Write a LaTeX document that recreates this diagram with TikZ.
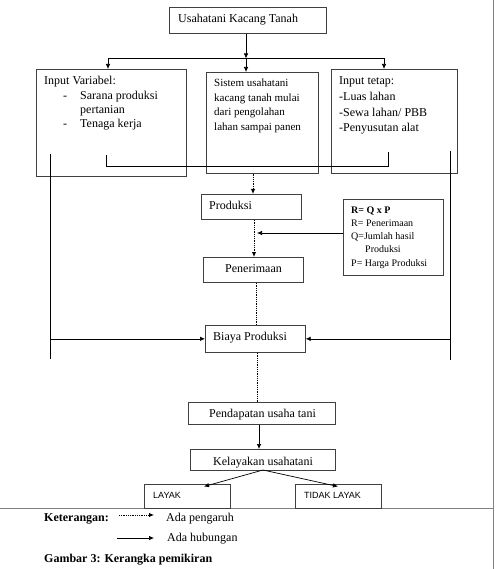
\documentclass[tikz,border=0pt]{standalone}
\usepackage{fontspec}
\setmainfont{Liberation Serif}
\newfontfamily\arialfont{Liberation Sans}
\usetikzlibrary{arrows.meta}
\begin{document}
\begin{tikzpicture}[x=1pt,y=-1pt,
  box/.style={draw=black!75, line width=0.7pt, inner sep=0pt, anchor=north west},
  txt/.style={anchor=base west, inner sep=0pt, font=\fontsize{12}{14}\selectfont},
  txtm/.style={anchor=base west, inner sep=0pt, font=\fontsize{11}{13}\selectfont},
  txts/.style={anchor=base west, inner sep=0pt, font=\fontsize{10}{12}\selectfont},
  txta/.style={anchor=base west, inner sep=0pt, font=\arialfont\fontsize{9}{10}\selectfont},
  conn/.style={line width=0.7pt, black},
  arr/.style={conn, -{Latex[length=5pt,width=4.5pt]}},
  dotl/.style={line width=0.9pt, black, dash pattern=on 0.9pt off 0.9pt},
  dotarr/.style={dotl, -{Latex[length=5pt,width=4.5pt]}},
  frame/.style={draw=black!50, line width=0.9pt}]
\useasboundingbox (0,0) rectangle (498,569);

% page frame lines
\coordinate (f1) at (493.5,0);
\coordinate (f2) at (493.5,569);
\coordinate (f3) at (0,508);
\draw[frame] (f1) -- (f2);
\draw[frame] (f3) -- (f3 -| f1);

% boxes
\node[box, minimum width=157pt, minimum height=26pt] (top) at (169,7) {};
\node[box, minimum width=150pt, minimum height=107pt] (lbox) at (36,69) {};
\node[box, minimum width=112pt, minimum height=101pt] (mbox) at (206,72) {};
\node[box, minimum width=126pt, minimum height=104pt] (rbox) at (331,69) {};
\node[box, minimum width=100pt, minimum height=25pt] (prod) at (201,194) {};
\node[box, minimum width=100pt, minimum height=76pt] (req) at (343,199) {};
\node[box, minimum width=100pt, minimum height=25pt] (pen) at (203,257) {};
\node[box, minimum width=100pt, minimum height=27pt] (biaya) at (205,325) {};
\node[box, minimum width=147pt, minimum height=22pt] (pend) at (188,402) {};
\node[box, minimum width=145pt, minimum height=21pt] (kel) at (190,449) {};
\node[box, minimum width=86pt, minimum height=24pt] (layak) at (144,484) {};
\node[box, minimum width=86pt, minimum height=24pt] (tlayak) at (295,484) {};

% texts
\node[txt] (ttop) at (178,23) {Usahatani Kacang Tanah};

\node[txt] (tl1) at (44,85) {Input Variabel:};
\node[txt] (tl2) at (63,99.5) {-};
\node[txt] (tl3) at (80,99.5) {Sarana produksi};
\node[txt] (tl4) at (80,114) {pertanian};
\node[txt] (tl5) at (63,128) {-};
\node[txt] (tl6) at (80,128) {Tenaga kerja};

\node[txtm] (tm1) at (214,87) {Sistem usahatani};
\node[txtm] (tm2) at (214,101.5) {kacang tanah mulai};
\node[txtm] (tm3) at (214,116) {dari pengolahan};
\node[txtm] (tm4) at (214,130.5) {lahan sampai panen};

\node[txt] (tr1) at (339,85) {Input tetap:};
\node[txt] (tr2) at (339,100.5) {-Luas lahan};
\node[txt] (tr3) at (339,116.5) {-Sewa lahan/ PBB};
\node[txt] (tr4) at (339,132) {-Penyusutan alat};

\node[txt] (tprod) at (209,209) {Produksi};
\node[txts] (tq1) at (351,213) {\textbf{R= Q x P}};
\node[txts] (tq2) at (351,226) {R= Penerimaan};
\node[txts] (tq3) at (351,239) {Q=Jumlah hasil};
\node[txts] (tq4) at (365,252.5) {Produksi};
\node[txts] (tq5) at (351,266) {P= Harga Produksi};
\node[txt] (tpen) at (225,272) {Penerimaan};
\node[txt] (tbia) at (213,340) {Biaya Produksi};
\node[txt] (tpend) at (209,417) {Pendapatan usaha tani};
\node[txt] (tkel) at (213,465) {Kelayakan usahatani};
\node[txta] (tlay) at (153,498) {LAYAK};
\node[txta] (ttlay) at (304,498) {TIDAK LAYAK};

\node[txt] (tket) at (44,521) {\textbf{Keterangan:}};
\node[txt] (tpeng) at (166,521) {Ada pengaruh};
\node[txt] (thub) at (167,541) {Ada hubungan};
\node[txt] (tgam) at (44,562) {\textbf{Gambar 3: Kerangka pemikiran}};

% top distribution
\coordinate (j0) at (246,58.5);
\coordinate (jl) at (108,58.5);
\coordinate (jr) at (384,58.5);
\draw[arr] (top.south -| j0) -- (j0);
\draw[conn] (jl) -- (jr);
\draw[arr] (jl) -- (jl |- lbox.north);
\draw[arr] (j0) -- (j0 |- mbox.north);
\draw[arr] (jr) -- (jr |- rbox.north);

% inner bracket line
\coordinate (la) at (106,155);
\coordinate (lc) at (388,166);
\coordinate (lb) at (388,152);
\draw[conn] (la) |- (lc) -- (lb);

% long side lines to Biaya Produksi
\coordinate (vl1) at (50,154);
\coordinate (vl2) at (50,359);
\coordinate (vr1) at (450,151);
\coordinate (vr2) at (450,360);
\draw[conn] (vl1) -- (vl2);
\draw[conn] (vr1) -- (vr2);
\draw[arr] (vl1 |- biaya.west) -- (biaya.west);
\draw[arr] (vr1 |- biaya.east) -- (biaya.east);

% central chain
\coordinate (d1) at (253,0);
\draw[dotarr] (mbox.south -| d1) -- (prod.north -| d1);
\coordinate (d2) at (254,0);
\draw[dotarr] (prod.south -| d2) -- (pen.north -| d2);
\coordinate (rlev) at (0,233);
\coordinate (rtip) at (257,233);
\draw[arr] (req.west |- rlev) -- (rtip);
\coordinate (d3) at (256,0);
\draw[dotl] (pen.south -| d3) -- (biaya.north -| d3);
\coordinate (d4) at (257,0);
\draw[dotl] (biaya.south -| d4) -- (pend.north -| d4);
\coordinate (d5) at (259,0);
\draw[arr] (pend.south -| d5) -- (kel.north -| d5);
\coordinate (ks) at (263,470);
\coordinate (tl) at (204,486.5);
\coordinate (tt) at (338,486.5);
\draw[arr] (ks) -- (tl);
\draw[arr] (ks) -- (tt);

% legend
\coordinate (k1) at (119,515);
\coordinate (k2) at (154,515);
\coordinate (k3) at (117,538);
\coordinate (k4) at (154,538);
\draw[dotarr] (k1) -- (k2);
\draw[arr] (k3) -- (k4);
\end{tikzpicture}
\end{document}
